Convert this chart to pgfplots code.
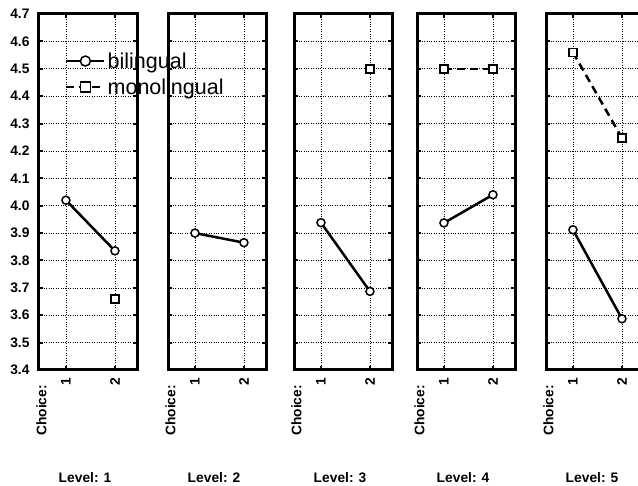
\documentclass[border=0pt]{standalone}
\usepackage{fontspec}
\setmainfont{Liberation Sans}
\usepackage{pgfplots}
\pgfplotsset{compat=1.18}
\newcommand{\tf}{\fontsize{13.8}{16}\selectfont\bfseries}
\pgfplotsset{
 panel/.style={
  scale only axis, width=98pt, height=356pt, anchor=south west,
  xmin=0.45, xmax=2.45, ymin=3.4, ymax=4.7,
  xtick={1,2}, xticklabels={1,2},
  ytick={3.4,3.5,3.6,3.7,3.8,3.9,4.0,4.1,4.2,4.3,4.4,4.5,4.6,4.7},
  grid=major, major grid style={dotted, black, line width=0.6pt},
  axis line style={line width=3pt},
  tick style={black, line width=2pt}, major tick length=4pt, tick align=inside,
  xtick pos=both, ytick pos=both,
  xticklabel style={font=\tf, rotate=90, anchor=east, xshift=-4pt},
  yticklabel style={font=\tf, xshift=-6pt},
  /pgf/number format/assume math mode=true,
  yticklabel={\pgfmathprintnumber[fixed,fixed zerofill,precision=1]{\tick}},
  clip=false,
 },
 bil/.style={black, line width=2.5pt, mark=*, mark size=4pt, mark options={solid, line width=1.5pt, fill=white}},
 mono/.style={black, line width=2.5pt, dash pattern=on 8pt off 5pt, mark=square*, mark size=4pt, mark options={solid, line width=1.5pt, fill=white}},
}
\newcommand{\labels}[1]{%
  \node[font=\tf, rotate=90, anchor=east, inner sep=0pt] at (rel axis cs:0.026,-0.042) {Choice:};
  \node[font=\tf, inner sep=0pt] at (rel axis cs:0.47,-0.303) {Level: #1};
}
\begin{document}
\begin{tikzpicture}
% Panel 1
\begin{axis}[panel, at={(39pt,116pt)},
  legend style={at={(0.265,0.898)}, anchor=north west, draw=none, fill=none,
    font=\fontsize{21.5}{24}\selectfont, inner sep=0pt, row sep=5pt},
  legend cell align=left,
  legend image code/.code={\draw[mark repeat=2,mark phase=2,#1,line width=2.5pt,mark size=5pt] plot coordinates {(0pt,0pt) (19pt,0pt) (38pt,0pt)};}]
\addplot[bil] coordinates {(1,4.02) (2,3.835)};
\addplot[mono] coordinates {(2,3.66)};
\legend{bilingual, monolingual}
\labels{1}
\end{axis}
% Panel 2
\begin{axis}[panel, at={(168pt,116pt)}, yticklabels={}]
\addplot[bil] coordinates {(1,3.90) (2,3.865)};
\labels{2}
\end{axis}
% Panel 3
\begin{axis}[panel, at={(294pt,116pt)}, yticklabels={}]
\addplot[bil] coordinates {(1,3.938) (2,3.687)};
\addplot[mono] coordinates {(2,4.50)};
\labels{3}
\end{axis}
% Panel 4
\begin{axis}[panel, at={(417pt,116pt)}, yticklabels={}]
\addplot[bil] coordinates {(1,3.937) (2,4.04)};
\addplot[mono] coordinates {(1,4.50) (2,4.50)};
\labels{4}
\end{axis}
% Panel 5
\begin{axis}[panel, at={(546pt,116pt)}, yticklabels={}]
\addplot[bil] coordinates {(1,3.912) (2,3.587)};
\addplot[mono] coordinates {(1,4.56) (2,4.247)};
\labels{5}
\end{axis}
\pgfresetboundingbox
\path[use as bounding box] (0,0) rectangle (638pt,486pt);
\end{tikzpicture}
\end{document}
